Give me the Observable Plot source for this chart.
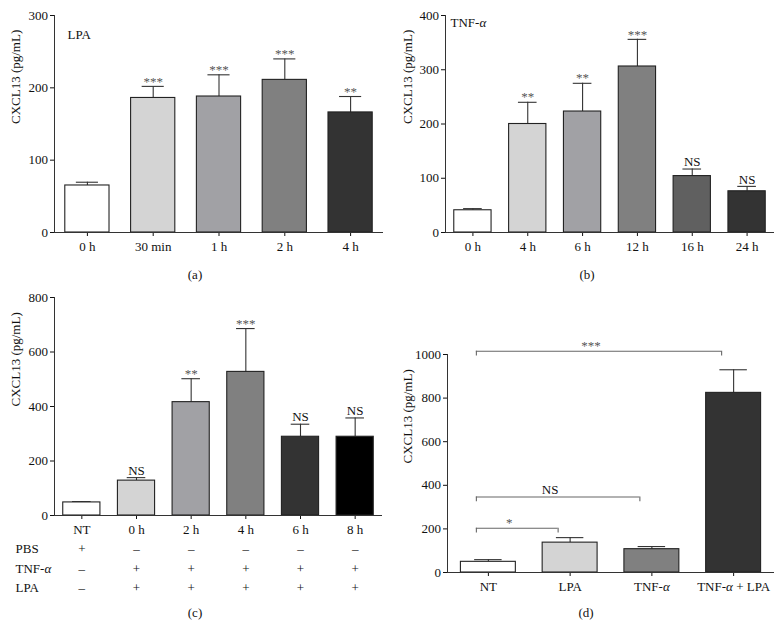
<!DOCTYPE html>
<html><head><meta charset="utf-8">
<script src="https://cdn.jsdelivr.net/npm/d3@7"></script>
<script src="https://cdn.jsdelivr.net/npm/@observablehq/plot@0.6"></script>
<style>
body{margin:0;background:#fff}
#fig{position:relative;width:783px;height:626px;background:#fff;font-family:"Liberation Serif","Times New Roman",serif;color:#111;overflow:hidden}
.panel{position:absolute}
.panel svg{overflow:visible}
.cap{position:absolute;font-size:13px;transform:translate(-50%,-50%);white-space:nowrap}
</style></head><body>
<div id="fig">
  <div class="panel" id="pa" style="left:0;top:0"></div>
  <div class="panel" id="pb" style="left:392px;top:0"></div>
  <div class="panel" id="pc" style="left:0;top:285px"></div>
  <div class="panel" id="pd" style="left:392px;top:285px"></div>
  <div class="cap" style="left:195px;top:275px">(a)</div>
  <div class="cap" style="left:587px;top:275px">(b)</div>
  <div class="cap" style="left:195px;top:613px">(c)</div>
  <div class="cap" style="left:586px;top:613px">(d)</div>
</div>
<script>
// ---------- data ----------
const yLabel = "CXCL13 (pg/mL)";

// (a) LPA time course
const aTitle = "LPA";
const aCats = ["0 h", "30 min", "1 h", "2 h", "4 h"];
const aMeans = [65, 186, 188, 211, 166];
const aSems = [4.5, 16, 30, 29, 22];
const aSig = ["", "***", "***", "***", "**"];
const aFills = ["#ffffff", "#d4d4d4", "#a1a1a5", "#808080", "#333333"];
const aTicks = [0, 100, 200, 300];

// (b) TNF-α time course
const bTitle = "TNF-α";
const bCats = ["0 h", "4 h", "6 h", "12 h", "16 h", "24 h"];
const bMeans = [41, 200, 223, 306, 104, 76];
const bSems = [3, 40, 52, 50, 13, 9];
const bSig = ["", "**", "**", "***", "NS", "NS"];
const bFills = ["#ffffff", "#d4d4d4", "#a1a1a5", "#808080", "#606060", "#333333"];
const bTicks = [0, 100, 200, 300, 400];

// (c) TNF-α + LPA time course
const cCats = ["NT", "0 h", "2 h", "4 h", "6 h", "8 h"];
const cMeans = [48, 128, 416, 527, 289, 289];
const cSems = [3, 11, 86, 159, 46, 69];
const cSig = ["", "NS", "**", "***", "NS", "NS"];
const cFills = ["#ffffff", "#d4d4d4", "#a1a1a5", "#808080", "#333333", "#000000"];
const cTicks = [0, 200, 400, 600, 800];
const cRowNames = ["PBS", "TNF-α", "LPA"];
const cPBS = ["+", "–", "–", "–", "–", "–"];
const cTNF = ["–", "+", "+", "+", "+", "+"];
const cLPA = ["–", "+", "+", "+", "+", "+"];

// (d) combinations
const dCats = ["NT", "LPA", "TNF-α", "TNF-α + LPA"];
const dMeans = [49, 137, 107, 824];
const dSems = [10, 23, 12, 106];
const dFills = ["#ffffff", "#d4d4d4", "#808080", "#333333"];
const dTicks = [0, 200, 400, 600, 800, 1000];
const bracketFrom = ["NT", "NT", "NT"];
const bracketTo = ["LPA", "TNF-α", "TNF-α + LPA"];
const bracketY = [203, 346, 1015];
const bracketSig = ["*", "NS", "***"];

// ---------- helpers ----------
const FONT = "Liberation Serif, Times New Roman, serif";
function panel({cats, means, sems, sig, fills, ticks, width, height, mt, mb, ml, mr, half, cap, extra = []}) {
  const data = cats.map((c, i) => ({i, c, m: means[i], top: means[i] + sems[i], s: sig ? sig[i] : "", f: fills[i]}));
  const isStar = d => /^\*+$/.test(d.s);
  return Plot.plot({
    width, height, marginTop: mt, marginBottom: mb, marginLeft: ml, marginRight: mr,
    style: {fontFamily: FONT, fontSize: "13px", color: "#111", background: "transparent", overflow: "visible"},
    x: {domain: [-0.5, cats.length - 0.5], ticks: cats.map((_, i) => i), tickFormat: i => cats[i], tickSize: 4, tickPadding: 5, label: null},
    y: {domain: [0, ticks[ticks.length - 1]], ticks, tickFormat: d => String(d), tickSize: 4, tickPadding: 2.5, label: null},
    marks: [
      Plot.ruleX(data, {x: "i", y1: "m", y2: "top", stroke: "#333", strokeWidth: 1.1}),
      Plot.ruleY(data, {y: "top", x1: d => d.i - cap, x2: d => d.i + cap, stroke: "#333", strokeWidth: 1.1}),
      Plot.rectY(data, {x1: d => d.i - half, x2: d => d.i + half, y1: 0, y2: "m", fill: d => d.f, stroke: "#222", strokeWidth: 1.1}),
      Plot.text(data.filter(isStar), {x: "i", y: "top", text: "s", dy: -5, lineAnchor: "middle", fill: "#555"}),
      Plot.text(data.filter(d => d.s && !isStar(d)), {x: "i", y: "top", text: "s", dy: -7, lineAnchor: "middle", fill: "#111"}),
      Plot.ruleY([0], {stroke: "#333"}),
      Plot.ruleX([-0.5], {stroke: "#333"}),
      Plot.text([yLabel], {frameAnchor: "left", rotate: -90, dx: -(ml - 15), lineAnchor: "middle", fill: "#111"}),
      ...extra
    ]
  });
}

// italicise the Greek alpha in every label (kept as real text)
function italicAlpha(svg) {
  svg.querySelectorAll("text").forEach(t => {
    const targets = t.querySelector("tspan") ? Array.from(t.querySelectorAll("tspan")) : [t];
    targets.forEach(el => {
      if (el.children.length || !el.textContent.includes("α")) return;
      const parts = el.textContent.split("α");
      el.textContent = "";
      parts.forEach((p, k) => {
        if (p) el.appendChild(document.createTextNode(p));
        if (k < parts.length - 1) {
          const ts = document.createElementNS("http://www.w3.org/2000/svg", "tspan");
          ts.setAttribute("font-style", "italic");
          ts.textContent = "α";
          el.appendChild(ts);
        }
      });
    });
  });
  return svg;
}

// (a)
document.getElementById("pa").append(italicAlpha(panel({
  cats: aCats, means: aMeans, sems: aSems, sig: aSig, fills: aFills, ticks: aTicks,
  width: 392, height: 262, mt: 15, mb: 30, ml: 54, mr: 9, half: 0.336, cap: 0.168,
  extra: [Plot.text([aTitle], {frameAnchor: "top-left", dx: 13, dy: 19, lineAnchor: "middle", textAnchor: "start"})]
})));

// (b)
document.getElementById("pb").append(italicAlpha(panel({
  cats: bCats, means: bMeans, sems: bSems, sig: bSig, fills: bFills, ticks: bTicks,
  width: 391, height: 262, mt: 15, mb: 30, ml: 53, mr: 9, half: 0.34, cap: 0.17,
  extra: [Plot.text([bTitle], {frameAnchor: "top-left", dx: 5, dy: 7, lineAnchor: "middle", textAnchor: "start"})]
})));

// (c)
const rowDy = [33, 53, 72];
const cRowVals = [cPBS, cTNF, cLPA];
const cExtra = [];
cRowNames.forEach((name, k) => {
  cExtra.push(Plot.text([name], {frameAnchor: "bottom-left", textAnchor: "start", dx: -39, dy: rowDy[k], lineAnchor: "middle"}));
  cExtra.push(Plot.text(cCats.map((_, i) => i), {x: d => d, text: i => cRowVals[k][i], frameAnchor: "bottom", dy: rowDy[k], lineAnchor: "middle"}));
});
document.getElementById("pc").append(italicAlpha(panel({
  cats: cCats, means: cMeans, sems: cSems, sig: cSig, fills: cFills, ticks: cTicks,
  width: 392, height: 312, mt: 12, mb: 82, ml: 54, mr: 10, half: 0.34, cap: 0.17,
  extra: cExtra
})));

// (d)
const brackets = bracketFrom.map((f, k) => ({
  x1: dCats.indexOf(f), x2: dCats.indexOf(bracketTo[k]), y: bracketY[k], s: bracketSig[k]
}));
const drop = 22;
const dExtra = [
  Plot.ruleY(brackets, {y: "y", x1: "x1", x2: "x2", dx: -12, stroke: "#666", strokeWidth: 1.1}),
  Plot.ruleX(brackets, {x: "x1", y1: "y", y2: d => d.y - drop, dx: -12, stroke: "#666", strokeWidth: 1.1}),
  Plot.ruleX(brackets, {x: "x2", y1: "y", y2: d => d.y - drop, dx: -12, stroke: "#666", strokeWidth: 1.1}),
  Plot.text(brackets.filter(d => d.s !== "NS"), {x: d => (d.x1 + d.x2) / 2, y: "y", text: "s", dx: -20, dy: -5, lineAnchor: "middle", fill: "#555"}),
  Plot.text(brackets.filter(d => d.s === "NS"), {x: d => (d.x1 + d.x2) / 2, y: "y", text: "s", dx: -20, dy: -7, lineAnchor: "middle", fill: "#111"})
];
document.getElementById("pd").append(italicAlpha(panel({
  cats: dCats, means: dMeans, sems: dSems, sig: null, fills: dFills, ticks: dTicks,
  width: 391, height: 312, mt: 69, mb: 25, ml: 55, mr: 9, half: 0.336, cap: 0.168,
  extra: dExtra
})));
</script>
</body></html>
